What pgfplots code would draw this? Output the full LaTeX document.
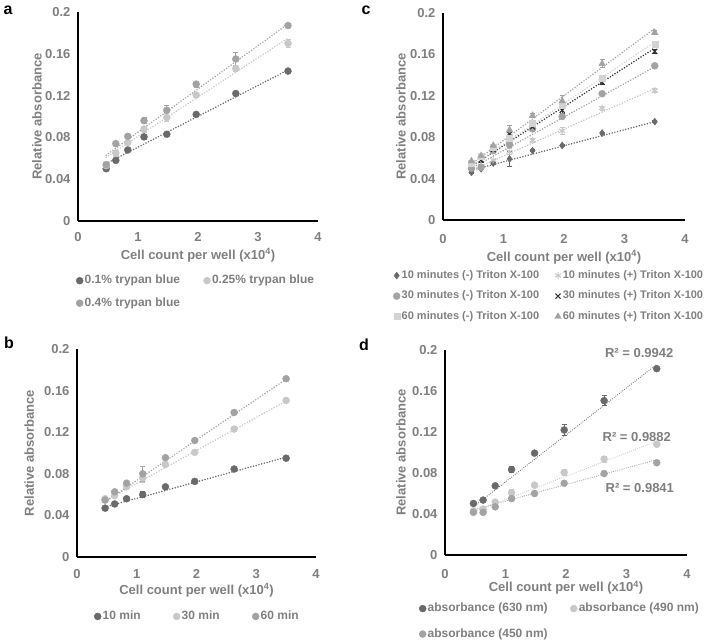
\documentclass[border=0pt]{standalone}
\usepackage{pgfplots}
\pgfplotsset{compat=1.18}
\usepackage{fontspec}
\setmainfont{Liberation Sans}
\definecolor{tgray}{HTML}{7F7F7F}
\definecolor{cdark}{HTML}{6A6A6A}
\definecolor{clight}{HTML}{C8C8C8}
\definecolor{cmid}{HTML}{A3A3A3}
\definecolor{cblack}{HTML}{303030}
\pgfplotsset{
  panel/.style={
    scale only axis, xmin=0, xmax=4, ymin=0, ymax=0.2,
    axis x line=bottom, axis y line=left,
    axis line style={line width=2pt, black, -},
    xtick={0,1,2,3,4}, xticklabels={0,1,2,3,4},
    ytick={0,0.04,0.08,0.12,0.16,0.2}, yticklabels={0,0.04,0.08,0.12,0.16,0.2},
    major tick length=0pt,
    tick label style={font=\fontsize{13}{15}\selectfont\bfseries, text=tgray},
    yticklabel style={xshift=-4pt},
    xticklabel style={yshift=-6pt},
    label style={font=\fontsize{13}{15}\selectfont\bfseries, text=tgray},
    xlabel={Cell count per well (x10\textsuperscript{4})},
    ylabel={Relative absorbance},
    clip=false,
    legend cell align=left,
    legend image code/.code={\draw[mark repeat=1,##1] plot coordinates {(0pt,0pt)};},
    legend style={draw=none, fill=none, inner sep=0pt, font=\fontsize{12}{14}\selectfont\bfseries, text=tgray,
      nodes={inner sep=1.5pt, text height=9pt, text depth=2.5pt}, row sep=8pt},
  },
  trend/.style={line cap=round, dash pattern=on 0pt off 2.8pt, line width=1.7pt, forget plot},
  dat/.style={only marks, mark size=3.5pt,
     error bars/y dir=both, error bars/y explicit,
     error bars/error bar style={line width=0.8pt},
     error bars/error mark options={rotate=90, mark size=2.5pt, line width=0.8pt}},
}
\begin{document}
\begin{tikzpicture}
\path[use as bounding box] (0,0) rectangle (708pt,640pt);
\node[font=\fontsize{16}{18}\selectfont\bfseries, anchor=center] at (8pt,630pt) {a};
\node[font=\fontsize{16}{18}\selectfont\bfseries, anchor=center] at (366pt,630pt) {c};
\node[font=\fontsize{16}{18}\selectfont\bfseries, anchor=center] at (9pt,297pt) {b};
\node[font=\fontsize{16}{18}\selectfont\bfseries, anchor=center] at (364pt,295pt) {d};

% ---------------- panel a
\begin{axis}[panel, at={(78pt,419pt)}, anchor=south west, width=240pt, height=209pt,
  xticklabel style={yshift=-2pt},
  xlabel style={at={(axis description cs:0.5,-0.163)}, anchor=center},
  ylabel style={at={(axis description cs:-0.171,0.5)}, anchor=center},
  legend columns=2,
  legend style={at={(axis description cs:0,-0.25)}, anchor=north west, xshift=-2pt,
    /tikz/every even column/.append style={column sep=22pt}}]
\addplot[dat, mark=*, cdark, fill=cdark] table[x=x,y=y,y error=e,row sep=\\]{
x y e\\ 0.47 0.050 0\\ 0.63 0.058 0.001\\ 0.83 0.068 0.001\\ 1.1 0.0805 0.002\\ 1.48 0.083 0.002\\ 1.97 0.102 0.001\\ 2.63 0.122 0.001\\ 3.5 0.1435 0.001\\};
\addlegendentry{0.1\% trypan blue}
\addplot[dat, mark=*, clight, fill=clight] table[x=x,y=y,y error=e,row sep=\\]{
x y e\\ 0.47 0.053 0.002\\ 0.63 0.065 0.003\\ 0.83 0.075 0.002\\ 1.1 0.088 0.003\\ 1.48 0.099 0.004\\ 1.97 0.1205 0.002\\ 2.63 0.146 0.003\\ 3.5 0.170 0.004\\};
\addlegendentry{0.25\% trypan blue}
\addplot[dat, mark=*, cmid, fill=cmid] table[x=x,y=y,y error=e,row sep=\\]{
x y e\\ 0.47 0.054 0.001\\ 0.63 0.074 0.001\\ 0.83 0.081 0.002\\ 1.1 0.096 0.003\\ 1.48 0.106 0.005\\ 1.97 0.131 0.003\\ 2.63 0.155 0.006\\ 3.5 0.187 0.002\\};
\addlegendentry{0.4\% trypan blue}
\addplot[trend, cdark] coordinates {(0.47,0.055) (3.5,0.1445)};
\addplot[trend, clight] coordinates {(0.47,0.061) (3.5,0.175)};
\addplot[trend, cmid] coordinates {(0.47,0.063) (3.5,0.1885)};
\end{axis}

% ---------------- panel c
\begin{axis}[panel, at={(443pt,420pt)}, anchor=south west, width=242pt, height=207pt,
  xticklabel style={yshift=-5pt},
  xlabel style={at={(axis description cs:0.5,-0.179)}, anchor=center},
  ylabel style={at={(axis description cs:-0.174,0.5)}, anchor=center},
  legend columns=2,
  legend style={at={(axis description cs:0,-0.235)}, anchor=north west, xshift=-50pt,
    font=\fontsize{11}{13}\selectfont\bfseries,
    nodes={inner sep=1.5pt, text height=8pt, text depth=2.5pt}, row sep=7pt,
    /tikz/every even column/.append style={column sep=14pt}}]
\addplot[dat, mark=diamond*, mark size=3.5pt, cdark, fill=cdark] table[x=x,y=y,y error=e,row sep=\\]{
x y e\\ 0.47 0.046 0.001\\ 0.63 0.0495 0.001\\ 0.83 0.055 0.001\\ 1.1 0.059 0.007\\ 1.48 0.067 0.001\\ 1.97 0.072 0.001\\ 2.63 0.084 0.001\\ 3.5 0.095 0.001\\};
\addlegendentry{10 minutes (-) Triton X-100}
\addplot[dat, mark=asterisk, mark size=3.5pt, mark options={line width=1pt}, clight] table[x=x,y=y,y error=e,row sep=\\]{
x y e\\ 0.47 0.052 0.001\\ 0.63 0.052 0.001\\ 0.83 0.058 0.001\\ 1.1 0.066 0.003\\ 1.48 0.077 0.002\\ 1.97 0.086 0.003\\ 2.63 0.108 0.002\\ 3.5 0.125 0.002\\};
\addlegendentry{10 minutes (+) Triton X-100}
\addplot[dat, mark=*, cmid, fill=cmid] table[x=x,y=y,y error=e,row sep=\\]{
x y e\\ 0.47 0.050 0.001\\ 0.63 0.051 0.001\\ 0.83 0.067 0.002\\ 1.1 0.073 0.003\\ 1.48 0.088 0.002\\ 1.97 0.100 0.002\\ 2.63 0.122 0.001\\ 3.5 0.149 0.001\\};
\addlegendentry{30 minutes (-) Triton X-100}
\addplot[dat, mark=x, mark size=3.5pt, mark options={line width=1.1pt}, cblack] table[x=x,y=y,y error=e,row sep=\\]{
x y e\\ 0.47 0.055 0.001\\ 0.63 0.058 0.002\\ 0.83 0.068 0.002\\ 1.1 0.083 0.003\\ 1.48 0.090 0.002\\ 1.97 0.106 0.003\\ 2.63 0.133 0.002\\ 3.5 0.163 0.002\\};
\addlegendentry{30 minutes (+) Triton X-100}
\addplot[dat, mark=square*, mark size=3pt, clight!80, fill=clight!80] table[x=x,y=y,y error=e,row sep=\\]{
x y e\\ 0.47 0.055 0.001\\ 0.63 0.062 0.001\\ 0.83 0.070 0.001\\ 1.1 0.079 0.002\\ 1.48 0.094 0.002\\ 1.97 0.111 0.002\\ 2.63 0.137 0.002\\ 3.5 0.170 0.001\\};
\addlegendentry{60 minutes (-) Triton X-100}
\addplot[dat, mark=triangle*, mark size=3.8pt, cmid, fill=cmid] table[x=x,y=y,y error=e,row sep=\\]{
x y e\\ 0.47 0.057 0.001\\ 0.63 0.062 0.001\\ 0.83 0.072 0.001\\ 1.1 0.087 0.004\\ 1.48 0.101 0.002\\ 1.97 0.115 0.005\\ 2.63 0.151 0.004\\ 3.5 0.181 0.002\\};
\addlegendentry{60 minutes (+) Triton X-100}
\addplot[trend, cdark] coordinates {(0.47,0.048) (3.5,0.095)};
\addplot[trend, clight] coordinates {(0.47,0.048) (3.5,0.127)};
\addplot[trend, cmid] coordinates {(0.47,0.050) (3.5,0.148)};
\addplot[trend, cblack] coordinates {(0.47,0.052) (3.5,0.166)};
\addplot[trend, clight!80] coordinates {(0.47,0.052) (3.5,0.172)};
\addplot[trend, cmid] coordinates {(0.47,0.054) (3.5,0.185)};
\end{axis}

% ---------------- panel b
\begin{axis}[panel, at={(77pt,83pt)}, anchor=south west, width=239pt, height=208pt,
  xticklabel style={yshift=-3pt},
  xlabel style={at={(axis description cs:0.5,-0.16)}, anchor=center},
  ylabel style={at={(axis description cs:-0.20,0.5)}, anchor=center},
  legend columns=3,
  legend style={at={(axis description cs:0,-0.25)}, anchor=north west, xshift=17pt,
    /tikz/every even column/.append style={column sep=31pt},
    /tikz/every odd column/.append style={column sep=0pt}}]
\addplot[dat, mark=*, cdark, fill=cdark] table[x=x,y=y,y error=e,row sep=\\]{
x y e\\ 0.47 0.047 0.001\\ 0.63 0.051 0.001\\ 0.83 0.056 0.001\\ 1.1 0.060 0.003\\ 1.48 0.0675 0.001\\ 1.97 0.0727 0.001\\ 2.63 0.0846 0.001\\ 3.5 0.095 0.001\\};
\addlegendentry{10 min}
\addplot[dat, mark=*, clight, fill=clight] table[x=x,y=y,y error=e,row sep=\\]{
x y e\\ 0.47 0.056 0.001\\ 0.63 0.059 0.001\\ 0.83 0.0675 0.001\\ 1.1 0.076 0.004\\ 1.48 0.089 0.001\\ 1.97 0.1006 0.001\\ 2.63 0.123 0.001\\ 3.5 0.1505 0.001\\};
\addlegendentry{30 min}
\addplot[dat, mark=*, cmid, fill=cmid] table[x=x,y=y,y error=e,row sep=\\]{
x y e\\ 0.47 0.0547 0.001\\ 0.63 0.0627 0.001\\ 0.83 0.071 0.001\\ 1.1 0.080 0.007\\ 1.48 0.0955 0.001\\ 1.97 0.112 0.001\\ 2.63 0.139 0.001\\ 3.5 0.1714 0.001\\};
\addlegendentry{60 min}
\addplot[trend, cdark] coordinates {(0.47,0.048) (3.5,0.096)};
\addplot[trend, clight] coordinates {(0.47,0.054) (3.5,0.150)};
\addplot[trend, cmid] coordinates {(0.47,0.053) (3.5,0.171)};
\end{axis}

% ---------------- panel d
\begin{axis}[panel, at={(445pt,85pt)}, anchor=south west, width=242pt, height=205pt,
  xticklabel style={yshift=-5pt},
  xlabel style={at={(axis description cs:0.5,-0.16)}, anchor=center},
  ylabel style={at={(axis description cs:-0.182,0.5)}, anchor=center},
  legend columns=2,
  legend style={at={(axis description cs:0,-0.225)}, anchor=north west, xshift=-26pt,
    row sep=11pt,
    /tikz/every even column/.append style={column sep=21pt}}]
\addplot[dat, mark=*, cdark, fill=cdark] table[x=x,y=y,y error=e,row sep=\\]{
x y e\\ 0.47 0.0503 0.001\\ 0.63 0.0536 0.001\\ 0.83 0.0675 0.001\\ 1.1 0.0834 0.003\\ 1.48 0.0994 0.001\\ 1.97 0.122 0.005\\ 2.63 0.1506 0.005\\ 3.5 0.1818 0.001\\};
\addlegendentry{absorbance (630 nm)}
\addplot[dat, mark=*, clight, fill=clight] table[x=x,y=y,y error=e,row sep=\\]{
x y e\\ 0.47 0.0432 0.001\\ 0.63 0.0448 0.001\\ 0.83 0.0516 0.001\\ 1.1 0.0607 0.003\\ 1.48 0.0682 0.001\\ 1.97 0.0805 0.003\\ 2.63 0.0935 0.003\\ 3.5 0.108 0.001\\};
\addlegendentry{absorbance (490 nm)}
\addplot[dat, mark=*, cmid, fill=cmid] table[x=x,y=y,y error=e,row sep=\\]{
x y e\\ 0.47 0.0416 0.001\\ 0.63 0.0416 0.001\\ 0.83 0.047 0.001\\ 1.1 0.055 0.002\\ 1.48 0.060 0.001\\ 1.97 0.070 0.002\\ 2.63 0.0795 0.001\\ 3.5 0.090 0.001\\};
\addlegendentry{absorbance (450 nm)}
\addplot[trend, line width=1.2pt, dash pattern=on 0pt off 2.2pt, cdark] coordinates {(0.47,0.047) (3.5,0.186)};
\addplot[trend, line width=1.2pt, dash pattern=on 0pt off 2.2pt, clight] coordinates {(0.47,0.042) (3.5,0.111)};
\addplot[trend, line width=1.2pt, dash pattern=on 0pt off 2.2pt, cmid] coordinates {(0.47,0.044) (3.5,0.093)};
\node[font=\fontsize{13}{15}\selectfont\bfseries, text=tgray] at (axis cs:3.21,0.197) {R² = 0.9942};
\node[font=\fontsize{13}{15}\selectfont\bfseries, text=tgray] at (axis cs:3.17,0.115) {R² = 0.9882};
\node[font=\fontsize{13}{15}\selectfont\bfseries, text=tgray] at (axis cs:3.22,0.0654) {R² = 0.9841};
\end{axis}
\end{tikzpicture}
\end{document}
